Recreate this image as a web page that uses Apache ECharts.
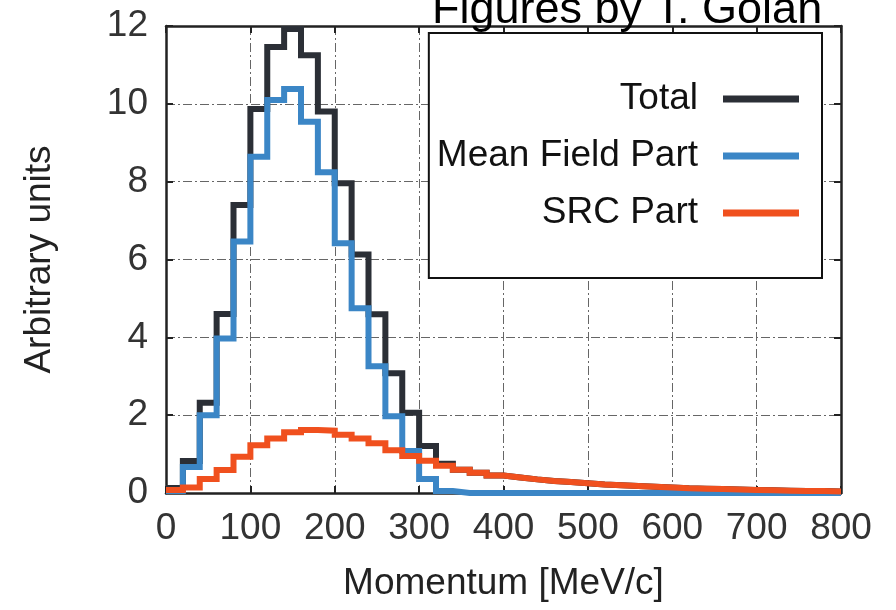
<!DOCTYPE html>
<html>
<head>
<meta charset="utf-8">
<script src="https://cdn.jsdelivr.net/npm/echarts@6/dist/echarts.min.js"></script>
<style>
  html, body { margin: 0; padding: 0; background: #fff; }
  #chart { width: 896px; height: 610px; }
</style>
</head>
<body>
<div id="chart"></div>
<script>
// Bin lower edges (MeV/c), bin width 20
const binStart = [0, 20, 40, 60, 80, 100, 120, 140, 160, 180,
                  200, 220, 240, 260, 280, 300, 320, 340, 360, 380,
                  400, 420, 440, 460, 480, 500, 520, 540, 560, 580,
                  600, 620, 640, 660, 680, 700, 720, 740, 760, 780];
const binEnd = 800;

const totalVals = [0.13, 0.82, 2.32, 4.6, 7.4, 9.87, 11.46, 11.92, 11.25, 9.8,
                   7.96, 6.13, 4.59, 3.08, 2.06, 1.21, 0.75, 0.6, 0.52, 0.45,
                   0.4, 0.35, 0.31, 0.28, 0.25, 0.22, 0.2, 0.18, 0.16, 0.14,
                   0.12, 0.11, 0.1, 0.09, 0.08, 0.07, 0.06, 0.05, 0.05, 0.04];
const meanFieldVals = [0.05, 0.67, 2.0, 3.97, 6.46, 8.64, 10.1, 10.38, 9.54, 8.24,
                       6.42, 4.75, 3.26, 1.97, 1.08, 0.36, 0.05, 0, 0, 0,
                       0, 0, 0, 0, 0, 0, 0, 0, 0, 0,
                       0, 0, 0, 0, 0, 0, 0, 0, 0, 0];
const srcVals = [0.08, 0.14, 0.36, 0.59, 0.93, 1.23, 1.40, 1.56, 1.62, 1.60,
                 1.50, 1.40, 1.28, 1.10, 0.95, 0.83, 0.70, 0.60, 0.52, 0.45,
                 0.40, 0.35, 0.31, 0.28, 0.25, 0.22, 0.20, 0.18, 0.16, 0.14,
                 0.12, 0.11, 0.10, 0.09, 0.08, 0.07, 0.06, 0.05, 0.05, 0.04];

const seriesNames = ['Total', 'Mean Field Part', 'SRC Part'];
const titleText = 'Figures by T. Golan';
const xAxisTitle = 'Momentum [MeV/c]';
const yAxisTitle = 'Arbitrary units';

function histData(vals) {
  const d = binStart.map((x, i) => [x, vals[i]]);
  d.push([binEnd, vals[vals.length - 1]]);
  return d;
}

const FONT = 'Liberation Sans, Arial, sans-serif';
const chart = echarts.init(document.getElementById('chart'), null, { renderer: 'canvas' });

const gridLine = { show: true, lineStyle: { color: '#666', width: 1, type: [9, 3, 2, 3] } };

function line(name, vals, color, z) {
  return {
    name: name, type: 'line', step: 'end', symbol: 'none', z: z,
    xAxisIndex: 0, yAxisIndex: 0,
    data: histData(vals),
    lineStyle: { color: color, width: 6, join: 'miter', cap: 'butt' },
    itemStyle: { color: color },
    animation: false
  };
}

chart.setOption({
  animation: false,
  backgroundColor: '#fff',
  title: {
    text: titleText, left: 432, top: -12, padding: 0,
    textStyle: { fontFamily: FONT, fontSize: 45, fontWeight: 'normal', color: '#000', lineHeight: 45 }
  },
  grid: { left: 166, right: 55, top: 26, bottom: 117, show: false },
  legend: {
    data: seriesNames,
    orient: 'vertical', align: 'right',
    right: 74, top: 33,
    padding: [46, 23, 45, 8],
    itemWidth: 76, itemHeight: 7, itemGap: 17,
    icon: 'rect',
    backgroundColor: '#fff', borderColor: '#111', borderWidth: 2,
    textStyle: { fontFamily: FONT, fontSize: 37, color: '#111', lineHeight: 40, padding: [0, 20, 0, 0] },
    selectedMode: false
  },
  xAxis: [{
    type: 'value', min: 0, max: 800, interval: 100, position: 'bottom',
    name: xAxisTitle, nameLocation: 'middle', nameGap: 72,
    nameTextStyle: { fontFamily: FONT, fontSize: 37, color: '#222' },
    axisLine: { show: true, onZero: false, lineStyle: { color: '#222', width: 2.5 } },
    axisTick: { show: true, inside: true, length: 7, lineStyle: { color: '#222', width: 2 } },
    axisLabel: { fontFamily: FONT, fontSize: 37, color: '#333', margin: 17 },
    splitLine: gridLine
  }, {
    type: 'value', min: 0, max: 800, interval: 100, position: 'top',
    axisLine: { show: true, onZero: false, lineStyle: { color: '#222', width: 2.5 } },
    axisTick: { show: true, inside: true, length: 7, lineStyle: { color: '#222', width: 2 } },
    axisLabel: { show: false }, splitLine: { show: false }
  }],
  yAxis: [{
    type: 'value', min: 0, max: 12, interval: 2, position: 'left',
    name: yAxisTitle, nameLocation: 'middle', nameGap: 108, nameRotate: 90,
    nameTextStyle: { fontFamily: FONT, fontSize: 37, color: '#222' },
    axisLine: { show: true, onZero: false, lineStyle: { color: '#222', width: 2.5 } },
    axisTick: { show: true, inside: true, length: 7, lineStyle: { color: '#222', width: 2 } },
    axisLabel: { fontFamily: FONT, fontSize: 37, color: '#333', margin: 18 },
    splitLine: gridLine
  }, {
    type: 'value', min: 0, max: 12, interval: 2, position: 'right',
    axisLine: { show: true, onZero: false, lineStyle: { color: '#222', width: 2.5 } },
    axisTick: { show: true, inside: true, length: 7, lineStyle: { color: '#222', width: 2 } },
    axisLabel: { show: false }, splitLine: { show: false }
  }],
  series: [
    line(seriesNames[0], totalVals, '#2b2f36', 2),
    line(seriesNames[1], meanFieldVals, '#3b86c6', 3),
    line(seriesNames[2], srcVals, '#f0501e', 4)
  ]
});
</script>
</body>
</html>
